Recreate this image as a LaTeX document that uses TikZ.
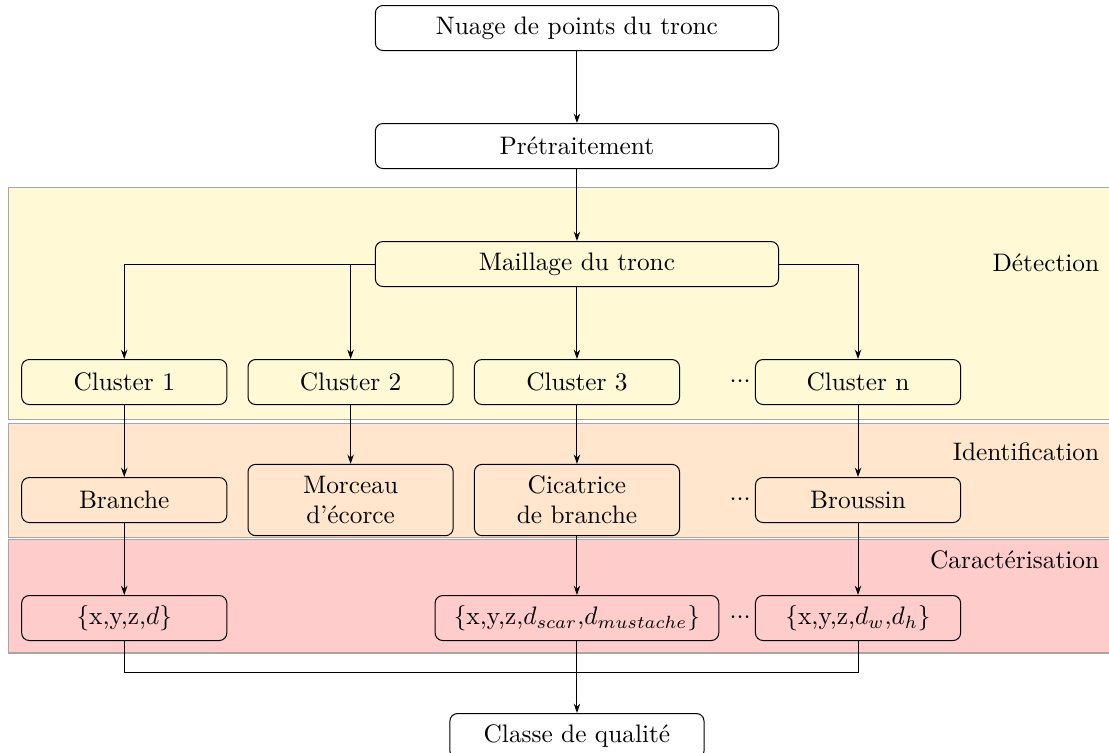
\documentclass[tikz,border=0pt]{standalone}
\usepackage{amsmath}
\usepackage{amssymb}
\usepackage{tikz}
\usetikzlibrary{positioning,arrows.meta}
\definecolor{bandyellow}{RGB}{255,249,214}
\definecolor{bandorange}{RGB}{255,230,204}
\definecolor{bandred}{RGB}{255,204,204}
\newcommand{\moredots}{${\cdot}{\cdot}{\cdot}$}

\begin{document}
\begin{tikzpicture}[box node/.style={rectangle,rounded corners=3pt,draw,minimum width=2.85cm,minimum height=.625cm,align=center},
    wide node/.style={box node,minimum width=5.6cm},
    tall node/.style={box node,minimum height=.99cm},
    dots node/.style={inner sep=1.5pt},
    band/.style={draw=gray!70},
    step label/.style={anchor=east,inner sep=0pt},
    >={Stealth[length=1.3mm,width=.9mm]}]
    \clip (-8.014,0.389) rectangle (7.39,-10.07);
    \fill[bandyellow,band] (-7.90,-2.222) rectangle (7.6,-5.431);
    \fill[bandorange,band] (-7.90,-5.487) rectangle (7.6,-7.07);
    \fill[bandred,band] (-7.90,-7.098) rectangle (7.6,-8.681);

    \node[wide node] (1) at (0,0) {Nuage de points du tronc};
    \node[wide node] (2) [below = 1cm of 1] {Prétraitement};
    \node[wide node] (3) [below = 1cm of 2] {Maillage du tronc};
    \node[box node] (6) [below = 1cm of 3] {Cluster 3};
    \node[box node] (5) [left = .28cm of 6] {Cluster 2};
    \node[box node] (4) [left = .28cm of 5] {Cluster 1};
    \node[box node] (7) [right = 1.04cm of 6] {Cluster n};
    \node[dots node] (d1) [left = 0pt of 7] {\moredots};
    \node[box node] (8) [below = 1cm of 4] {Branche};
    \node[tall node] (9) [right = .28cm of 8] {Morceau\\d'écorce};
    \node[tall node] (10) [right = .28cm of 9] {Cicatrice\\de branche};
    \node[box node] (11) [right = 1.04cm of 10] {Broussin};
    \node[dots node] (d2) [left = 0pt of 11] {\moredots};
    \node[box node] (12) [below = 1cm of 8] {$\{$x,y,z,$d\}$};
    \node[box node,minimum width=3.94cm] (13) at (10 |- 12) {$\{$x,y,z,$d_{scar}$,$d_{mustache}\}$};
    \node[box node] (14) at (11 |- 12) {$\{$x,y,z,$d_w$,$d_h\}$};
    \node[dots node] (d3) [left = 0pt of 14] {\moredots};
    \node[box node,minimum width=3.53cm] (15) [below = 1cm of 13] {Classe de qualité};
    \coordinate[below = .44cm of 13] (16);
    \node[step label] (17) at (7.26,-3.264) {Détection};
    \node[step label] (18) at (7.26,-5.889) {Identification};
    \node[step label] (19) at (7.26,-7.389) {Caractérisation};

    \path[draw,->]
    (1) edge (2)
    (2) edge (3)
    (3) edge (6)
    (4) edge (8)
    (5) edge (9)
    (6) edge (10)
    (7) edge (11)
    (8) edge (12)
    (10) edge (13)
    (11) edge (14)
    (13) edge (15)
    ;
    \draw[->] (3) -| (4);
    \draw[->] (3) -| (5);
    \draw[->] (3) -| (7);
    \draw (12) |- (16) -| (14);
    \end{tikzpicture}
\end{document}
